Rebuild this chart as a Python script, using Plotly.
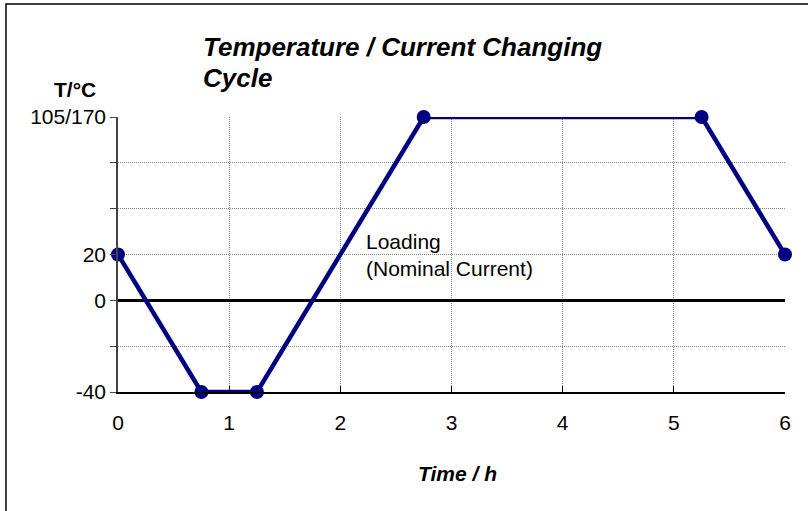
import plotly.graph_objects as go

time_h = [0, 0.75, 1.25, 2.75, 5.25, 6]
temp = [20, -40, -40, 80, 80, 20]

x_ticks = [0, 1, 2, 3, 4, 5, 6]
y_tickvals = [-40, -20, 0, 20, 40, 60, 80]
y_ticktext = ["-40", "", "0", "20", "", "", "105/170"]

title_line1 = "<b><i>Temperature / Current Changing</i></b>"
title_line2 = "<b><i>Cycle</i></b>"
y_title = "<b>T/°C</b>"
x_title = "<b><i>Time / h</i></b>"
note = "Loading<br>(Nominal Current)"

FONT = "Liberation Sans, Arial, Helvetica, sans-serif"

W, H = 808, 511
L, R, T, B = 118, 23, 117, 119
PW, PH = W - L - R, H - T - B


def px_x(p):
    return (p - L) / PW


def px_y(p):
    return (H - B - p) / PH


fig = go.Figure()
fig.add_trace(go.Scatter(
    x=time_h, y=temp, mode="lines+markers",
    line=dict(color="#000080", width=4.5),
    marker=dict(color="#000080", size=14),
    cliponaxis=False, showlegend=False,
))

fig.update_layout(
    width=W, height=H,
    margin=dict(l=L, r=R, t=T, b=B),
    paper_bgcolor="white", plot_bgcolor="white",
    font=dict(family=FONT, color="black", size=21),
    xaxis=dict(
        range=[0, 6], tickvals=x_ticks, ticks="inside", ticklen=6,
        tickcolor="black", showline=True, linecolor="black", linewidth=1.5,
        showgrid=True, gridcolor="#888", griddash="1px,1px", gridwidth=1,
        zeroline=False, tickfont=dict(size=21), ticklabelstandoff=11,
    ),
    yaxis=dict(
        range=[-40, 80], tickvals=y_tickvals, ticktext=y_ticktext,
        ticks="outside", ticklen=6, tickcolor="#444",
        showline=True, linecolor="#444", linewidth=1.5,
        showgrid=True, gridcolor="#888", griddash="1px,1px", gridwidth=1,
        zeroline=True, zerolinecolor="black", zerolinewidth=2.5,
        tickfont=dict(size=21),
    ),
)

fig.add_annotation(xref="paper", yref="paper", x=px_x(201), y=px_y(47),
                   text=title_line1, showarrow=False, xanchor="left", yanchor="middle",
                   font=dict(size=26))
fig.add_annotation(xref="paper", yref="paper", x=px_x(201), y=px_y(78),
                   text=title_line2, showarrow=False, xanchor="left", yanchor="middle",
                   font=dict(size=26))
fig.add_annotation(xref="paper", yref="paper", x=px_x(75), y=px_y(89),
                   text=y_title, showarrow=False, xanchor="center", yanchor="middle",
                   font=dict(size=21))
fig.add_annotation(xref="paper", yref="paper", x=px_x(457), y=px_y(473),
                   text=x_title, showarrow=False, xanchor="center", yanchor="middle",
                   font=dict(size=21))
fig.add_annotation(x=2.21, y=20, text=note, showarrow=False,
                   xanchor="left", yanchor="middle", align="left",
                   font=dict(size=21))

fig.add_shape(type="rect", xref="paper", yref="paper",
              x0=px_x(6), x1=px_x(820), y0=px_y(530), y1=px_y(4),
              line=dict(color="black", width=1.5), layer="below")

fig.write_html("out.html", config={"displayModeBar": False},
               post_script="document.body.style.margin='0';document.body.style.overflow='hidden';")
